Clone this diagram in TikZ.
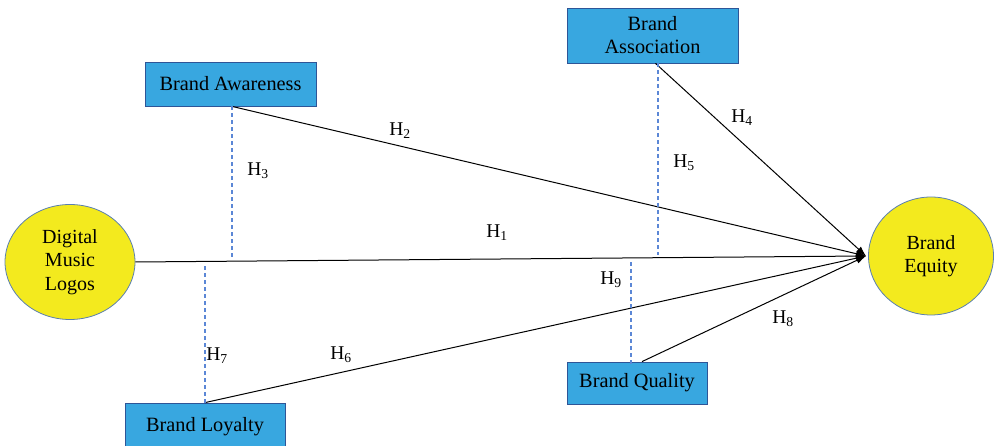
\documentclass[tikz,border=0pt]{standalone}
\usepackage{fontspec}
\setmainfont{Liberation Serif}
\usetikzlibrary{arrows.meta,shapes.geometric}
\definecolor{boxfill}{HTML}{38A7E0}
\definecolor{boxline}{HTML}{2E5597}
\definecolor{ellfill}{HTML}{F3EA1E}
\definecolor{ellline}{HTML}{5A7FB0}
\definecolor{dashc}{HTML}{5B87D6}
\begin{document}
\begin{tikzpicture}[x=1pt,y=-1pt,
  cbox/.style={draw=boxline, fill=boxfill, line width=0.8pt, inner sep=0pt, align=center, font=\fontsize{20.3}{23}\selectfont},
  cell/.style={ellipse, draw=ellline, fill=ellfill, line width=0.8pt, inner sep=0pt, align=center, font=\fontsize{20}{23.5}\selectfont},
  conn/.style={line width=1pt, -{Latex[length=10pt,width=7pt]}},
  dconn/.style={draw=dashc, line width=1.2pt, dash pattern=on 4pt off 3pt},
  hlab/.style={font=\fontsize{19.5}{22}\selectfont, inner sep=0pt}]
\useasboundingbox (0,0) rectangle (994,446);
% nodes
\node[cbox, minimum width=171, minimum height=44] (aw) at (230.5,84) {Brand Awareness};
\node[cbox, minimum width=171, minimum height=55] (as) at (652.5,35.5) {Brand\\Association};
\node[cbox, minimum width=160, minimum height=47] (lo) at (205,426.5) {Brand Loyalty};
\node[cbox, minimum width=140, minimum height=42] (qu) at (637,383) {Brand Quality};
\node[cell, minimum width=130, minimum height=115] (dml) at (70,262) {Digital\\Music\\Logos};
\node[cell, minimum width=125, minimum height=118] (be) at (931,256) {Brand\\Equity};
\coordinate (T) at (866,256);
% solid connectors
\draw[conn] (dml.east) -- (T);
\draw[conn] ([xshift=1.5pt]aw.south) -- (T);
\draw[conn] ([xshift=3pt]as.south) -- (T);
\draw[conn] (lo.north) -- (T);
\draw[conn] ([xshift=5pt]qu.north) -- (T);
% dashed connectors
\coordinate (d3) at (232,257);
\coordinate (d5) at (658,255);
\coordinate (d7) at (205,264);
\coordinate (d9) at (631,260);
\draw[dconn] ([xshift=1.5pt]aw.south) -- (d3);
\draw[dconn] ([xshift=5.5pt]as.south) -- (d5);
\draw[dconn] (lo.north) -- (d7);
\draw[dconn] ([xshift=-6pt,yshift=-2pt]qu.north) -- (d9);
% labels
\node[hlab] (h1) at (497,233) {H\textsubscript{1}};
\node[hlab] (h2) at (400,131) {H\textsubscript{2}};
\node[hlab] (h3) at (258,171) {H\textsubscript{3}};
\node[hlab] (h4) at (742,118) {H\textsubscript{4}};
\node[hlab] (h5) at (684,163) {H\textsubscript{5}};
\node[hlab] (h6) at (341,355) {H\textsubscript{6}};
\node[hlab] (h7) at (217,356) {H\textsubscript{7}};
\node[hlab] (h8) at (783,319) {H\textsubscript{8}};
\node[hlab] (h9) at (611,280) {H\textsubscript{9}};
\end{tikzpicture}
\end{document}
